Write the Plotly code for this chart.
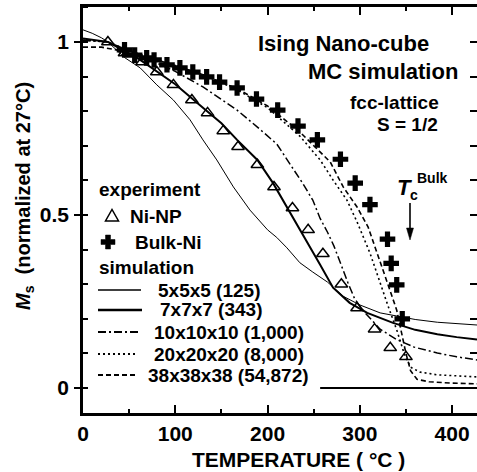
import plotly.graph_objects as go

# ---------------- data ----------------
T_np = [27, 45, 64, 80, 98, 118, 135, 152, 168, 189, 207, 227, 244, 260, 280, 297, 316, 333, 350]
M_np = [1.0, 0.968, 0.942, 0.913, 0.876, 0.832, 0.795, 0.743, 0.697, 0.645, 0.581, 0.52, 0.457,
        0.388, 0.3, 0.231, 0.17, 0.116, 0.09]

T_bulk = [45, 56, 69, 77, 91, 105, 119, 134, 148, 167, 188, 211, 233, 254, 279, 295, 311, 330, 334, 340, 346]
M_bulk = [0.977, 0.962, 0.954, 0.948, 0.934, 0.925, 0.913, 0.899, 0.884, 0.867, 0.835, 0.803, 0.757,
          0.717, 0.661, 0.592, 0.53, 0.43, 0.36, 0.298, 0.2]

T_5 = [0, 10, 20, 27, 35, 45, 62, 80, 98, 116, 130, 145, 163, 181, 200, 210, 221, 235, 249, 265,
       282, 300, 322, 344, 360, 384, 405, 427]
M_5 = [1.035, 1.025, 1.012, 1.0, 0.98, 0.955, 0.925, 0.876, 0.832, 0.775, 0.717, 0.659, 0.581,
       0.514, 0.457, 0.435, 0.405, 0.362, 0.335, 0.306, 0.265, 0.24, 0.217, 0.205, 0.198, 0.19,
       0.186, 0.182]

T_7 = [0, 27, 60, 100, 130, 150, 167, 189, 206, 221, 235, 246, 257, 271, 289, 308, 336, 360, 384, 405, 427]
M_7 = [1.01, 1.0, 0.952, 0.878, 0.81, 0.765, 0.717, 0.659, 0.592, 0.523, 0.46, 0.408, 0.356, 0.29,
       0.246, 0.217, 0.188, 0.168, 0.155, 0.147, 0.14]

T_10 = [0, 27, 60, 100, 130, 167, 189, 210, 238, 249, 257, 265, 272, 279, 287, 294, 302, 322, 340,
        359, 384, 405, 427]
M_10 = [1.005, 1.0, 0.963, 0.915, 0.87, 0.803, 0.754, 0.705, 0.592, 0.543, 0.49, 0.45, 0.41, 0.36,
        0.305, 0.26, 0.228, 0.17, 0.14, 0.118, 0.101, 0.09, 0.081]

T_20 = [0, 27, 50, 80, 100, 130, 167, 200, 235, 257, 271, 286, 297, 311, 322, 331, 340, 348, 355,
        365, 384, 405, 427]
M_20 = [1.005, 1.0, 0.975, 0.95, 0.932, 0.905, 0.862, 0.81, 0.728, 0.659, 0.601, 0.543, 0.48, 0.39,
        0.303, 0.234, 0.168, 0.10, 0.06, 0.046, 0.038, 0.035, 0.032]

T_38 = [0, 20, 40, 60, 80, 100, 130, 167, 200, 235, 268, 282, 297, 309, 319, 330, 340, 345, 350,
        355, 362, 375, 400, 427]
M_38 = [0.985, 0.985, 0.975, 0.962, 0.948, 0.932, 0.905, 0.865, 0.815, 0.74, 0.653, 0.581, 0.523,
        0.465, 0.39, 0.303, 0.225, 0.16, 0.1, 0.05, 0.025, 0.018, 0.014, 0.012]

T_base = [257, 430]
M_base = [0.0, 0.0]

sim_labels = ["5x5x5 (125)", "7x7x7 (343)", "10x10x10 (1,000)", "20x20x20 (8,000)", "38x38x38 (54,872)"]
x_ticks = [0, 100, 200, 300, 400]
y_ticks = [0, 0.5, 1]
y_tick_text = ["0", "0.5", "1"]

# ---------------- styling ----------------
FONT = "Liberation Sans, Arial, sans-serif"
BLACK = "black"
sim_styles = [
    dict(width=1.0, dash="solid"),
    dict(width=2.0, dash="solid"),
    dict(width=1.5, dash="8px,3px,2px,3px"),
    dict(width=1.6, dash="2px,3px"),
    dict(width=1.6, dash="5px,3px"),
]

W, H = 477, 472
L, R, T, B = 83, 0, 7, 59


def PX(x):
    return (x - L) / (W - L - R)


def PY(y):
    return (H - B - y) / (H - T - B)


fig = go.Figure()

for Tv, Mv, st, name in zip([T_5, T_7, T_10, T_20, T_38], [M_5, M_7, M_10, M_20, M_38], sim_styles, sim_labels):
    fig.add_trace(go.Scatter(x=Tv, y=Mv, mode="lines", name=name, showlegend=False,
                             line=dict(color=BLACK, width=st["width"], dash=st["dash"])))

fig.add_trace(go.Scatter(x=T_base, y=M_base, mode="lines", showlegend=False,
                         line=dict(color=BLACK, width=2.2)))

fig.add_trace(go.Scatter(x=T_np, y=M_np, mode="markers", name="Ni-NP", showlegend=False,
                         marker=dict(symbol="triangle-up-open", size=11, color=BLACK,
                                     line=dict(width=1.5, color=BLACK))))
fig.add_trace(go.Scatter(x=T_bulk, y=M_bulk, mode="markers", name="Bulk-Ni", showlegend=False,
                         marker=dict(symbol="cross", size=13, color=BLACK, line=dict(width=0))))

# invisible trace for right-hand tick marks
fig.add_trace(go.Scatter(x=[None], y=[None], yaxis="y2", showlegend=False, hoverinfo="skip"))

annotations = []
shapes = []


def txt(x, y, s, size, xanchor="left", **kw):
    annotations.append(dict(x=PX(x), y=PY(y), xref="paper", yref="paper", text=s, showarrow=False,
                            xanchor=xanchor, yanchor="middle", font=dict(family=FONT, size=size, color=BLACK),
                            **kw))


# title block
txt(343.5, 43, "<b>Ising Nano-cube</b>", 22, "center")
txt(382.5, 72, "<b>MC simulation</b>", 22, "center")
txt(394.5, 102, "<b>fcc-lattice</b>", 19, "center")
txt(407, 124, "<b>S = 1/2</b>", 19, "center")

# Tc bulk label + arrow (shapes)
txt(404, 188, "<b><i>T</i></b>", 22, "center")
txt(414, 195, "<b>c</b>", 14, "center")
txt(432, 178, "<b>Bulk</b>", 14, "center")
shapes.append(dict(type="line", xref="paper", yref="paper", x0=PX(410), x1=PX(410), y0=PY(203), y1=PY(230),
                   line=dict(color=BLACK, width=1.6)))
shapes.append(dict(type="path", xref="paper", yref="paper", xsizemode="pixel", ysizemode="pixel",
                   xanchor=PX(410), yanchor=PY(240), path="M -3.5 12 L 3.5 12 L 0 0 Z",
                   fillcolor=BLACK, line=dict(color=BLACK, width=0.5)))

# legend
txt(97, 190, "<b>experiment</b>", 19)
txt(128, 216, "<b>Ni-NP</b>", 19)
txt(133, 242, "<b>Bulk-Ni</b>", 19)
txt(97, 267, "<b>simulation</b>", 19)
leg_y = [290, 310, 332, 354, 375]
leg_x1 = [141, 142, 140, 136, 138]
leg_tx = [156, 158, 152, 152, 146]
for yy, x1, tx, st, lab in zip(leg_y, leg_x1, leg_tx, sim_styles, sim_labels):
    shapes.append(dict(type="line", xref="paper", yref="paper", x0=PX(98), x1=PX(x1), y0=PY(yy), y1=PY(yy),
                       line=dict(color=BLACK, width=st["width"] + 0.3, dash=st["dash"])))
    txt(tx, yy, "<b>%s</b>" % lab, 19)

shapes.append(dict(type="path", xref="paper", yref="paper", xsizemode="pixel", ysizemode="pixel",
                   xanchor=PX(112), yanchor=PY(216), path="M -6.5 -5 L 6.5 -5 L 0 6.5 Z",
                   line=dict(color=BLACK, width=1.5)))
shapes.append(dict(type="path", xref="paper", yref="paper", xsizemode="pixel", ysizemode="pixel",
                   xanchor=PX(108), yanchor=PY(242),
                   path="M -2.5 -7 L 2.5 -7 L 2.5 -2.5 L 7 -2.5 L 7 2.5 L 2.5 2.5 L 2.5 7 L -2.5 7 "
                        "L -2.5 2.5 L -7 2.5 L -7 -2.5 L -2.5 -2.5 Z",
                   fillcolor=BLACK, line=dict(color=BLACK, width=0.5)))

# axis titles
txt(298, 459, "<b>TEMPERATURE ( °C )</b>", 21, "center")
annotations.append(dict(x=PX(24), y=PY(196), xref="paper", yref="paper", textangle=-90,
                        text="<b><i>M</i></b><sub><b>s</b></sub>  <b>(normalized at 27°C)</b>",
                        showarrow=False, xanchor="center", yanchor="middle",
                        font=dict(family=FONT, size=20, color=BLACK)))

fig.update_layout(
    width=W, height=H, margin=dict(l=L, r=R, t=T, b=B, pad=0),
    paper_bgcolor="white", plot_bgcolor="white", showlegend=False,
    annotations=annotations, shapes=shapes,
    xaxis=dict(range=[0, 427], tickvals=x_ticks, ticks="inside", ticklen=8, tickwidth=2,
               tickcolor=BLACK, showline=True, linewidth=2.5, linecolor=BLACK, mirror="ticks",
               showgrid=False, zeroline=False,
               tickfont=dict(family=FONT, size=21, color=BLACK, weight="bold"),
               minor=dict(dtick=50, tick0=0, ticks="inside", ticklen=4, tickwidth=1.5, tickcolor=BLACK,
                          showgrid=False)),
    yaxis=dict(range=[-0.0723, 1.101], tickvals=y_ticks, ticktext=y_tick_text, ticks="outside", ticklen=6,
               tickwidth=2, tickcolor=BLACK, showline=True, linewidth=2.5, linecolor=BLACK, mirror=False,
               showgrid=False, zeroline=False, ticklabelstandoff=1,
               tickfont=dict(family=FONT, size=21, color=BLACK, weight="bold"),
               minor=dict(dtick=0.1, tick0=0, ticks="inside", ticklen=5, tickwidth=1.5, tickcolor=BLACK,
                          showgrid=False)),
    yaxis2=dict(overlaying="y", side="right", matches="y", showline=False, ticks="inside", ticklen=7,
                tickwidth=1.5, tickcolor=BLACK, dtick=0.1, tick0=0, showticklabels=False,
                showgrid=False, zeroline=False),
)

fig.write_html("out.html")
